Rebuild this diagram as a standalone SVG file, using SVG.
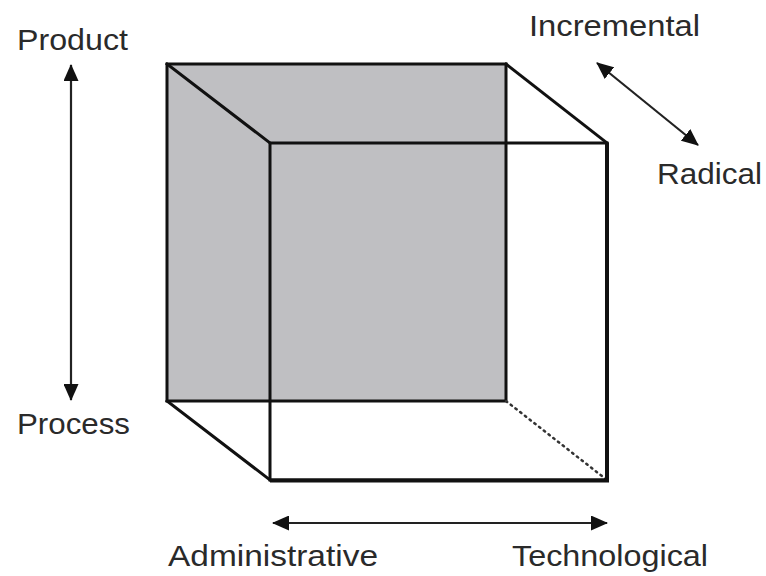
<svg xmlns="http://www.w3.org/2000/svg" width="766" height="576" viewBox="0 0 766 576">
  <style>
    .edge { stroke: #111; stroke-width: 3; fill: none; stroke-linecap: square; }
    .arrow { stroke: #222; stroke-width: 2.2; fill: none; marker-start: url(#head); marker-end: url(#head); }
    .lbl { font-family: "Liberation Sans", Arial, sans-serif; font-size: 30px; fill: #2a2a2a; }
  </style>
  <defs>
    <marker id="head" markerUnits="userSpaceOnUse" markerWidth="17" markerHeight="15" refX="16" refY="7.5" orient="auto-start-reverse" viewBox="0 0 17 15">
      <path d="M0,0 L17,7.5 L0,15 Z" fill="#111"/>
    </marker>
  </defs>
  <rect width="766" height="576" fill="#ffffff"/>
  <g id="cube">
    <rect x="167" y="64" width="339" height="337" fill="#bfbfc2"/>
    <rect class="edge" x="167" y="64" width="339" height="337"/>
    <line class="edge" x1="167" y1="64" x2="270" y2="143"/>
    <line class="edge" x1="506" y1="64" x2="607" y2="143"/>
    <line class="edge" x1="167" y1="401" x2="270" y2="480"/>
    <line x1="506" y1="401" x2="607" y2="480" stroke="#333" stroke-width="2.5" stroke-dasharray="1.5 4.5" stroke-linecap="round"/>
    <rect class="edge" x="270" y="143" width="337" height="337"/>
    <line x1="607" y1="143" x2="607" y2="481" stroke="#111" stroke-width="4"/>
    <line x1="270" y1="480.5" x2="609" y2="480.5" stroke="#111" stroke-width="4"/>
  </g>
  <g id="connectors">
    <line class="arrow" x1="71" y1="65" x2="71" y2="400"/>
    <line class="arrow" x1="597" y1="63" x2="698" y2="145"/>
    <line class="arrow" x1="273" y1="523" x2="607" y2="523"/>
  </g>
  <g id="labels">
    <text id="product" class="lbl" x="17" y="50" textLength="111" lengthAdjust="spacingAndGlyphs">Product</text>
    <text id="process" class="lbl" x="17" y="434" textLength="113" lengthAdjust="spacingAndGlyphs">Process</text>
    <text id="incremental" class="lbl" x="529" y="36" textLength="171" lengthAdjust="spacingAndGlyphs">Incremental</text>
    <text id="radical" class="lbl" x="657" y="184" textLength="105" lengthAdjust="spacingAndGlyphs">Radical</text>
    <text id="administrative" class="lbl" x="168" y="566" textLength="210" lengthAdjust="spacingAndGlyphs">Administrative</text>
    <text id="technological" class="lbl" x="512" y="566" textLength="196" lengthAdjust="spacingAndGlyphs">Technological</text>
  </g>
</svg>
